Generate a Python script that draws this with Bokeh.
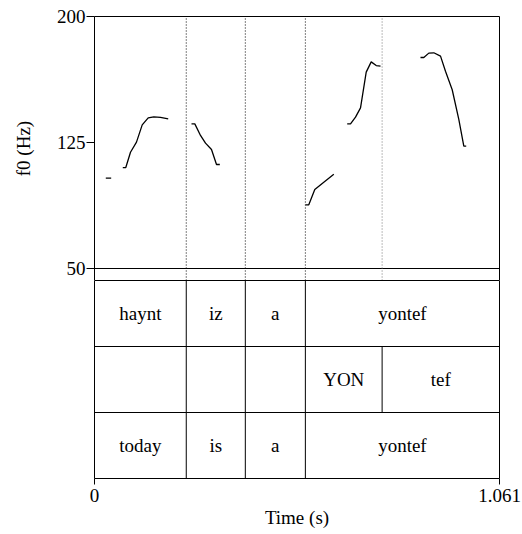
from bokeh.plotting import figure
from bokeh.layouts import column
from bokeh.models import Range1d, FixedTicker, LinearAxis
from bokeh.core.properties import value
from bokeh.embed import file_html
from bokeh.resources import INLINE

# ---- data ----
T_END = 1.061
F0_MIN, F0_MAX = 50, 200
f0_ticks = [50, 125, 200]
time_ticks = [0, 1.061]
time_tick_labels = {0: "0", 1.061: "1.061"}

# pitch contour segments (time s, f0 Hz)
seg_times = [
    [0.0296, 0.0437],
    [0.0741, 0.0820, 0.0943, 0.1100, 0.1250, 0.1407, 0.1553, 0.1729, 0.1931],
    [0.2541, 0.2628, 0.2777, 0.2908, 0.3065, 0.3196, 0.3283],
    [0.5528, 0.5614, 0.5771, 0.6007, 0.6269],
    [0.6620, 0.6707, 0.6838, 0.6969, 0.7118, 0.7249, 0.7380, 0.7493],
    [0.8540, 0.8627, 0.8758, 0.8889, 0.9065, 0.9195, 0.9371, 0.9544, 0.9675, 0.9738],
]
seg_f0 = [
    [103.8, 103.8],
    [110.1, 110.1, 119.2, 125.2, 135.5, 139.7, 140.3, 139.9, 139.1],
    [136.1, 136.1, 129.2, 124.6, 120.8, 111.9, 111.9],
    [87.9, 87.9, 97.0, 101.4, 106.1],
    [136.1, 136.1, 140.1, 145.6, 166.9, 173.0, 170.8, 170.5],
    [175.6, 175.6, 178.2, 178.4, 176.4, 167.4, 156.4, 138.7, 122.8, 122.8],
]

# TextGrid tiers
tier1_bounds = [0, 0.2404, 0.3951, 0.5524, 1.061]
tier1_labels = ["haynt", "iz", "a", "yontef"]
tier2_bounds = [0, 0.2404, 0.3951, 0.5524, 0.7535, 1.061]
tier2_labels = ["", "", "", "YON", "tef"]
tier3_bounds = [0, 0.2404, 0.3951, 0.5524, 1.061]
tier3_labels = ["today", "is", "a", "yontef"]

FONT = "Liberation Serif"
FS = "19px"

xr = Range1d(0, T_END)
gap_low = F0_MIN - (F0_MAX - F0_MIN) * 12 / 252   # small gap below the 50 Hz line

top = figure(width=522, height=280, output_backend="svg", toolbar_location=None,
             x_range=xr, y_range=Range1d(gap_low, F0_MAX),
             min_border_left=94, min_border_right=23, min_border_top=16, min_border_bottom=0)
bot = figure(width=522, height=254, output_backend="svg", toolbar_location=None,
             x_range=xr, y_range=Range1d(0, 3),
             min_border_left=94, min_border_right=23, min_border_top=0, min_border_bottom=56)

for f in (top, bot):
    f.background_fill_color = "white"
    f.border_fill_color = "white"
    f.xgrid.visible = False
    f.ygrid.visible = False
top.outline_line_color = None
bot.outline_line_color = "black"
bot.outline_line_width = 1

top.xaxis.visible = False
bot.yaxis.visible = False

# frame edges of the pitch panel drawn as plain axes (no ticks)
for side in ("right", "above"):
    ax = LinearAxis(ticker=FixedTicker(ticks=[]), axis_line_color="black",
                    major_tick_line_color=None, minor_tick_line_color=None,
                    major_label_text_font_size="0px")
    top.add_layout(ax, side)

ya = top.yaxis[0]
ya.ticker = FixedTicker(ticks=f0_ticks)
ya.axis_line_color = "black"
ya.major_tick_in = 0
ya.major_tick_out = 8
ya.major_tick_line_color = "black"
ya.minor_tick_line_color = None
ya.major_label_text_font = FONT
ya.major_label_text_font_size = FS
ya.major_label_text_color = "black"
ya.major_label_standoff = 1
ya.axis_label = "f0 (Hz)"
ya.axis_label_text_font = FONT
ya.axis_label_text_font_size = FS
ya.axis_label_text_color = "black"
ya.axis_label_text_font_style = "normal"
ya.axis_label_standoff = 20

xa = bot.xaxis[0]
xa.ticker = FixedTicker(ticks=time_ticks)
xa.major_label_overrides = time_tick_labels
xa.axis_line_color = None
xa.major_tick_in = 0
xa.major_tick_out = 6
xa.major_tick_line_color = "black"
xa.minor_tick_line_color = None
xa.major_label_text_font = FONT
xa.major_label_text_font_size = FS
xa.major_label_text_color = "black"
xa.major_label_standoff = 4
xa.axis_label = "Time (s)"
xa.axis_label_text_font = FONT
xa.axis_label_text_font_size = FS
xa.axis_label_text_color = "black"
xa.axis_label_text_font_style = "normal"
xa.axis_label_standoff = 2

# 50 Hz line
top.segment(x0=[0], x1=[T_END], y0=[F0_MIN], y1=[F0_MIN], line_color="black", line_width=1)

# dotted boundary lines through the pitch panel
all_b = sorted(set(tier1_bounds[1:-1] + tier2_bounds[1:-1] + tier3_bounds[1:-1]))
dot_colors = ["black", "black", "black", "#777777"]
for b, c in zip(all_b, dot_colors):
    top.segment(x0=[b], x1=[b], y0=[gap_low], y1=[F0_MAX], line_color=c,
                line_width=1, line_dash="1 2")

# tier horizontal lines
bot.segment(x0=[0, 0], x1=[T_END] * 2, y0=[2, 1], y1=[2, 1],
            line_color="black", line_width=1)

# tiers: boundaries and labels
for bounds, labels, lo in [(tier1_bounds, tier1_labels, 2),
                           (tier2_bounds, tier2_labels, 1),
                           (tier3_bounds, tier3_labels, 0)]:
    inner = bounds[1:-1]
    bot.segment(x0=inner, x1=inner, y0=[lo] * len(inner), y1=[lo + 1] * len(inner),
                line_color="black", line_width=1)
    mids = [(a + b) / 2 for a, b in zip(bounds[:-1], bounds[1:])]
    bot.text(x=mids, y=[lo + 0.5] * len(mids), text=labels,
             text_font=value(FONT), text_font_size=FS, text_align="center",
             text_baseline="middle", text_color="black")

# pitch contour
top.multi_line(xs=seg_times, ys=seg_f0, line_color="black", line_width=1.3)

p = column(top, bot, spacing=0)
open("out.html", "w").write(file_html(p, INLINE))
